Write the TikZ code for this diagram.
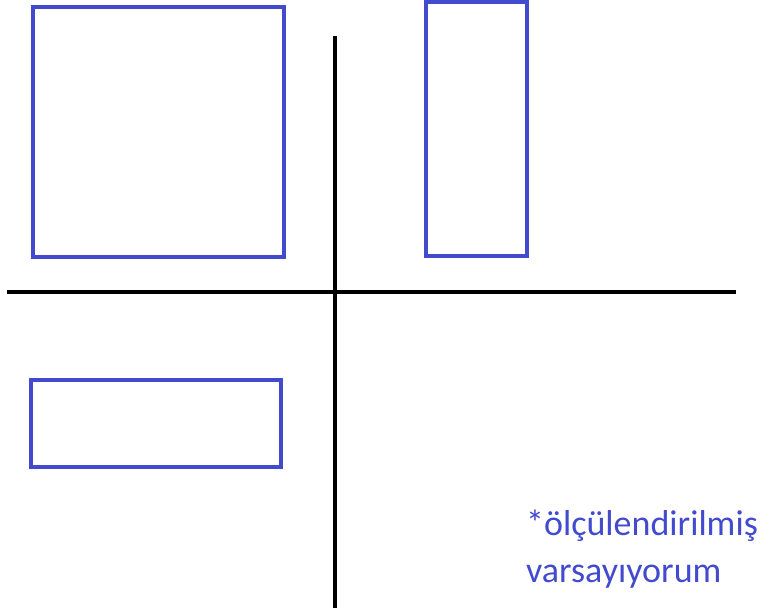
\documentclass[tikz,border=0pt]{standalone}
\usepackage{fontspec}
\setmainfont{Carlito}
\usepackage{xcolor}
\usepackage{tikz}
\usetikzlibrary{positioning}
\definecolor{BoxBlue}{RGB}{66, 74, 206}

\tikzset{
  plate/.style={draw=BoxBlue, line width=3.5pt, fill=white, inner sep=0pt},
  axisline/.style={draw=black, line width=3.5pt}
}

\begin{document}
\begin{tikzpicture}[x=1pt, y=-1pt]
  \useasboundingbox (0,0) rectangle (761,614);
  % axes
  \coordinate (west) at (7,292);
  \coordinate (east) at (736,292);
  \coordinate (north) at (335,36);
  \coordinate (south) at (335,608);
  \draw[axisline] (west) -- (east);
  \draw[axisline] (north) -- (south);
  % the three shapes
  \node[plate, minimum width=251pt, minimum height=250pt] (square) at (158.5,132) {};
  \node[plate, minimum width=101pt, minimum height=254pt] (tall) at (476.5,129) {};
  \node[plate, minimum width=250pt, minimum height=87pt] (wide) at (156,423.5) {};
  % note
  \node[anchor=base west, inner sep=0pt, align=left, text=BoxBlue,
        font=\fontsize{36}{47}\selectfont] (note) at (526,582)
    {*ölçülendirilmiş\\varsayıyorum};
\end{tikzpicture}
\end{document}
